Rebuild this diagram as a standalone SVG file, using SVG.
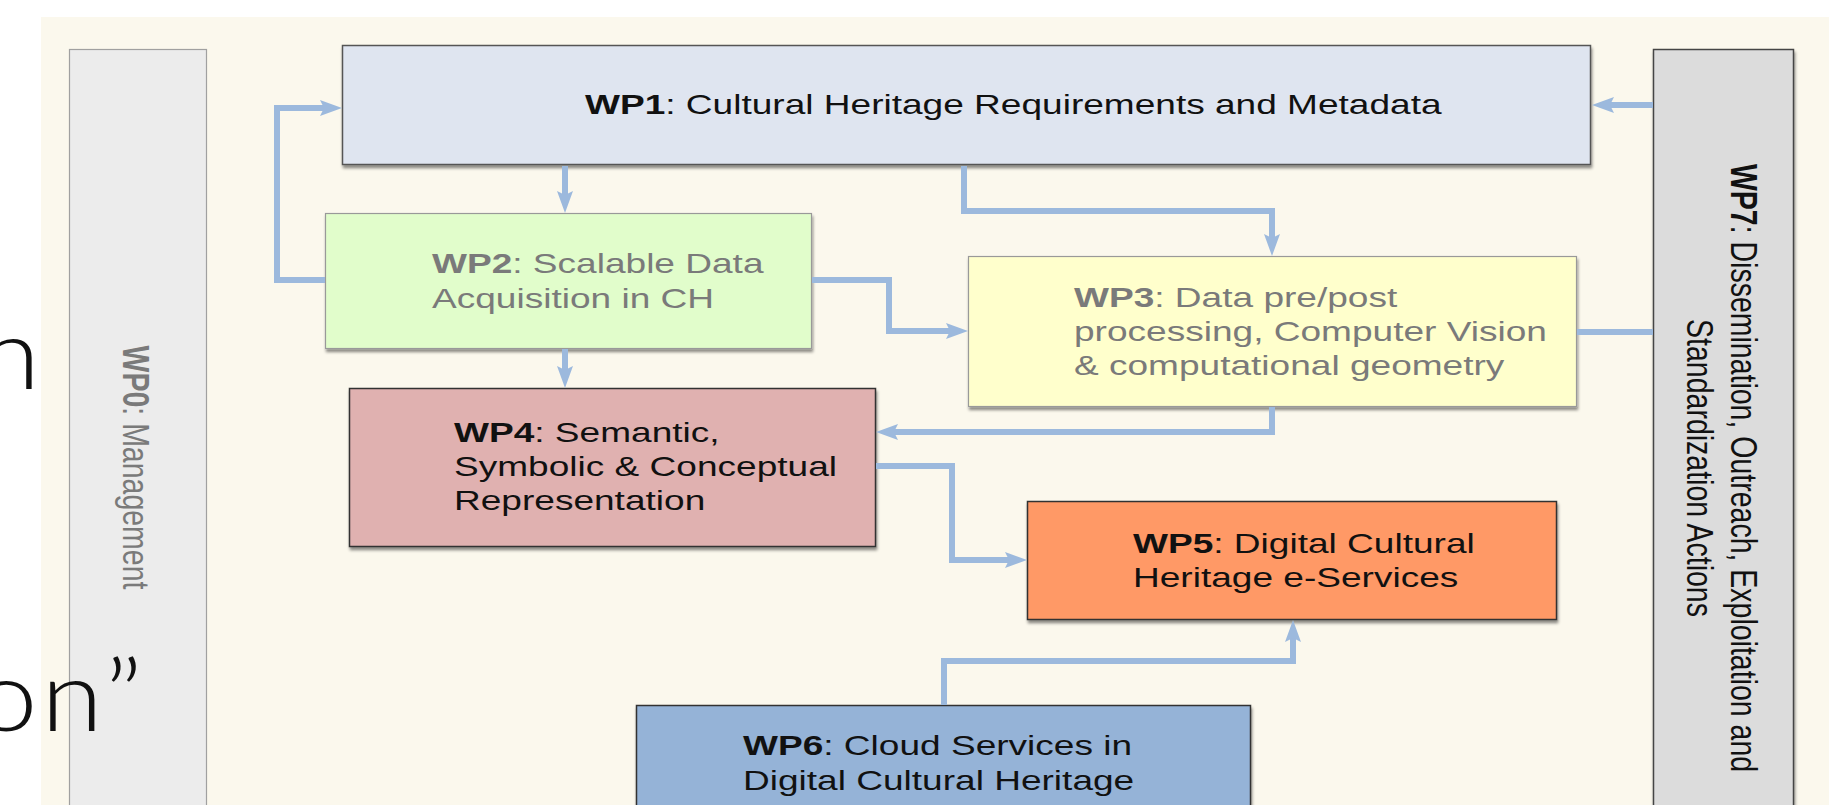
<svg xmlns="http://www.w3.org/2000/svg" width="1834" height="805" viewBox="0 0 1834 805">
<style>
.lbl{font-family:"Liberation Sans",Arial,sans-serif;font-size:28.5px;fill:#111}
.gray{fill:#7a7a7a}
.b{font-weight:bold}
.conn{fill:none;stroke:#9cb9dd;stroke-width:6;stroke-linejoin:miter}
.slide{font-family:Lato,"DejaVu Sans",sans-serif;font-weight:300;font-size:98px;fill:#111}
</style>
<defs>
<filter id="sh" x="-5%" y="-5%" width="110%" height="120%">
<feDropShadow dx="1" dy="3" stdDeviation="1.5" flood-color="#000" flood-opacity="0.45"/>
</filter>
<marker id="ah" markerUnits="userSpaceOnUse" markerWidth="22" markerHeight="18" refX="10" refY="9" orient="auto">
<path d="M0,1 L22,9 L0,17 L4,9 z" fill="#9cb9dd"/>
</marker>
</defs>
<rect x="0" y="0" width="1834" height="805" fill="#ffffff"/>
<rect x="41" y="17" width="1788" height="800" fill="#fbf8ed"/>

<g id="wp0">
<rect x="69.5" y="49.5" width="137" height="780" fill="#ececec" stroke="#a0a0a0" stroke-width="1.2"/>
<g transform="translate(123,467.5) scale(1.3,1) rotate(90)">
<text class="lbl gray" x="0" y="0" text-anchor="middle"><tspan class="b">WP0</tspan>: Management</text>
</g>
</g>

<g id="wp7">
<rect x="1653.5" y="49.5" width="140" height="780" fill="#dcdcdc" stroke="#444" stroke-width="1.5" filter="url(#sh)"/>
<g transform="translate(1731,468) scale(1.3,1) rotate(90)">
<text class="lbl" x="0" y="0" text-anchor="middle"><tspan class="b">WP7</tspan>: Dissemination, Outreach, Exploitation and</text>
<text class="lbl" x="0" y="34" text-anchor="middle">Standardization Actions</text>
</g>
</g>

<g id="wp1">
<rect x="342.5" y="45.5" width="1248" height="119" fill="#dfe5f0" stroke="#555" stroke-width="1.5" filter="url(#sh)"/>
<g transform="translate(585,114) scale(1.3,1)">
<text class="lbl" x="0" y="0"><tspan class="b">WP1</tspan>: Cultural Heritage Requirements and Metadata</text>
</g>
</g>

<g id="wp2">
<rect x="325.5" y="213.5" width="486" height="135" fill="#e1fdcb" stroke="#999" stroke-width="1.2" filter="url(#sh)"/>
<g transform="translate(432,273) scale(1.3,1)">
<text class="lbl gray" x="0" y="0"><tspan class="b">WP2</tspan>: Scalable Data</text>
<text class="lbl gray" x="0" y="35">Acquisition in CH</text>
</g>
</g>

<g id="wp3">
<rect x="968.5" y="256.5" width="608" height="150" fill="#ffffcc" stroke="#999" stroke-width="1.2" filter="url(#sh)"/>
<g transform="translate(1074,307) scale(1.3,1)">
<text class="lbl gray" x="0" y="0"><tspan class="b">WP3</tspan>: Data pre/post</text>
<text class="lbl gray" x="0" y="34">processing, Computer Vision</text>
<text class="lbl gray" x="0" y="68">&amp; computational geometry</text>
</g>
</g>

<g id="wp4">
<rect x="349.5" y="388.5" width="526" height="158" fill="#e0b1b0" stroke="#333" stroke-width="1.5" filter="url(#sh)"/>
<g transform="translate(454,442) scale(1.3,1)">
<text class="lbl" x="0" y="0"><tspan class="b">WP4</tspan>: Semantic,</text>
<text class="lbl" x="0" y="34">Symbolic &amp; Conceptual</text>
<text class="lbl" x="0" y="68">Representation</text>
</g>
</g>

<g id="wp5">
<rect x="1027.5" y="501.5" width="529" height="118" fill="#ff9966" stroke="#333" stroke-width="1.5" filter="url(#sh)"/>
<g transform="translate(1133,553) scale(1.3,1)">
<text class="lbl" x="0" y="0"><tspan class="b">WP5</tspan>: Digital Cultural</text>
<text class="lbl" x="0" y="34">Heritage e-Services</text>
</g>
</g>

<g id="wp6">
<rect x="636.5" y="705.5" width="614" height="130" fill="#95b3d7" stroke="#333" stroke-width="1.5" filter="url(#sh)"/>
<g transform="translate(743,755) scale(1.3,1)">
<text class="lbl" x="0" y="0"><tspan class="b">WP6</tspan>: Cloud Services in</text>
<text class="lbl" x="0" y="35">Digital Cultural Heritage</text>
</g>
</g>

<g id="connectors">
<path class="conn" d="M1653,105 L1604,105" marker-end="url(#ah)"/>
<path class="conn" d="M565,166 L565,201" marker-end="url(#ah)"/>
<path class="conn" d="M964,166 L964,211 L1272,211 L1272,244" marker-end="url(#ah)"/>
<path class="conn" d="M325,280 L277,280 L277,108 L330,108" marker-end="url(#ah)"/>
<path class="conn" d="M812,280 L889,280 L889,331 L956,331" marker-end="url(#ah)"/>
<path class="conn" d="M565,349 L565,376" marker-end="url(#ah)"/>
<path class="conn" d="M1272,407 L1272,432 L888,432" marker-end="url(#ah)"/>
<path class="conn" d="M876,466 L952,466 L952,560 L1015,560" marker-end="url(#ah)"/>
<path class="conn" d="M1577,332 L1653,332"/>
<path class="conn" d="M944,705 L944,661 L1293,661 L1293,632" marker-end="url(#ah)"/>
</g>

<g transform="scale(1.15,1)">
<text class="slide" x="-19" y="389">n</text>
<text class="slide" x="-22" y="731" letter-spacing="3">on”</text>
</g>
</svg>
